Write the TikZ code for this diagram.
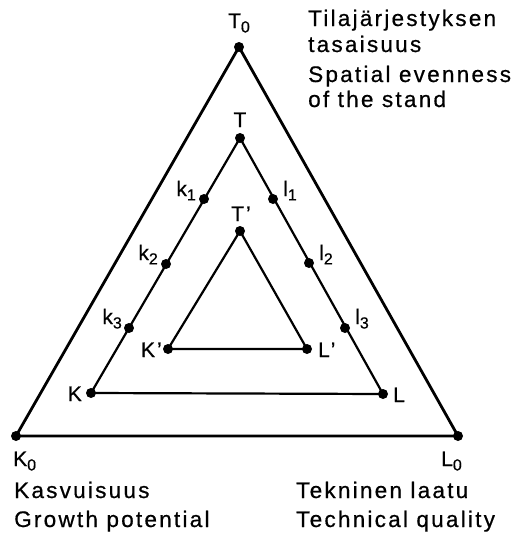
\documentclass[tikz,border=0pt]{standalone}
\usepackage{fontspec}
\setmainfont{Liberation Sans}[LetterSpace=10,FakeBold=0.6]
\newcommand{\sbx}[1]{\raisebox{-0.4ex}{\fontsize{16}{18}\selectfont #1}}
\begin{document}
\begin{tikzpicture}[x=1pt,y=-1pt,
  dot/.style={circle,fill=black,inner sep=0pt,minimum size=10pt},
  lbl/.style={inner sep=0pt,font=\fontsize{21}{24}\selectfont},
  captxt/.style={inner sep=0pt,anchor=base west,font=\fontsize{22.5}{26}\selectfont},
  outertri/.style={line width=2.8pt,line join=miter},
  midtri/.style={line width=2.2pt,line join=miter}]
\useasboundingbox (0,0) rectangle (527,536);
% outer
\node[dot] (T0) at (239,47) {};
\node[dot] (K0) at (16,436) {};
\node[dot] (L0) at (458,436) {};
\draw[outertri] (T0.center) -- (K0.center) -- (L0.center) -- cycle;
% middle
\node[dot] (T) at (240,138) {};
\node[dot] (K) at (91,393) {};
\node[dot] (L) at (383,394) {};
\draw[midtri] (T.center) -- (K.center) -- (L.center) -- cycle;
\node[dot] (k1) at (204,199) {};
\node[dot] (k2) at (166,264) {};
\node[dot] (k3) at (129,328) {};
\node[dot] (l1) at (273,199) {};
\node[dot] (l2) at (309,263) {};
\node[dot] (l3) at (345,328) {};
% inner
\node[dot] (Tp) at (240,231) {};
\node[dot] (Kp) at (168,349) {};
\node[dot] (Lp) at (307,349) {};
\draw[midtri] (Tp.center) -- (Kp.center) -- (Lp.center) -- cycle;
% labels
\node[lbl,anchor=base] at (241,221) {T’};
\node[lbl,anchor=base] at (239,28) {T\sbx{0}};
\node[lbl,anchor=base] at (240,127) {T};
\node[lbl,anchor=base east] at (196,196) {k\sbx{1}};
\node[lbl,anchor=base east] at (158,260) {k\sbx{2}};
\node[lbl,anchor=base east] at (122,324) {k\sbx{3}};
\node[lbl,anchor=base west] at (283,196) {l\sbx{1}};
\node[lbl,anchor=base west] at (319,260) {l\sbx{2}};
\node[lbl,anchor=base west] at (355,324) {l\sbx{3}};
\node[lbl,anchor=base east] at (162,357) {K’};
\node[lbl,anchor=base west] at (318,357) {L’};
\node[lbl,anchor=base east] at (82,401) {K};
\node[lbl,anchor=base west] at (393,402) {L};
\node[lbl,anchor=base west] at (13,466) {K\sbx{0}};
\node[lbl,anchor=base east] at (462,466) {L\sbx{0}};
% captions
\node[captxt] at (308,26) {Tilajärjestyksen};
\node[captxt] at (308,52) {tasaisuus};
\node[captxt] at (308,82) {Spatial evenness};
\node[captxt] at (308,107) {of the stand};
\node[captxt] at (14,498) {Kasvuisuus};
\node[captxt] at (14,527) {Growth potential};
\node[captxt] at (296,498) {Tekninen laatu};
\node[captxt] at (296,527) {Technical quality};
\end{tikzpicture}
\end{document}
